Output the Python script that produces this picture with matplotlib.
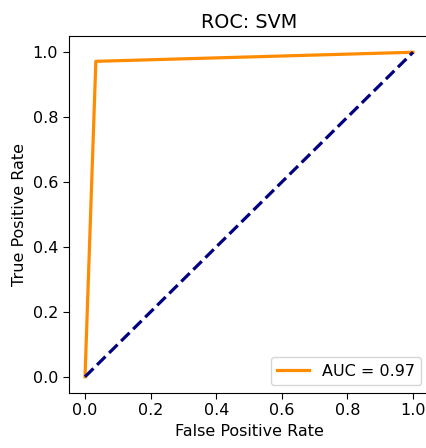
import matplotlib
matplotlib.use("Agg")
import matplotlib.pyplot as plt

# ROC curve points
fpr = [0.0, 0.033, 1.0]
tpr = [0.0, 0.972, 1.0]
auc_value = 0.97
chance = [0.0, 1.0]

scale = 1.15
plt.rcParams["font.size"] = 10 * scale
plt.rcParams["xtick.major.size"] = 3.5 * scale
plt.rcParams["ytick.major.size"] = 3.5 * scale

fig = plt.figure(figsize=(4.27, 4.48), dpi=100)
ax = fig.add_axes([0.1607, 0.1228, 0.845, 0.7968])

ax.plot(fpr, tpr, color="darkorange", lw=2 * scale, label="AUC = %0.2f" % auc_value)
ax.plot(chance, chance, color="navy", lw=2 * scale, linestyle="--")

ax.set_xlim(-0.05, 1.05)
ax.set_ylim(-0.05, 1.05)
ax.set_xlabel("False Positive Rate")
ax.set_ylabel("True Positive Rate")
ax.set_title("ROC: SVM", fontsize=12 * scale)
ax.legend(loc="lower right")

fig.savefig("out.png", dpi=100)
